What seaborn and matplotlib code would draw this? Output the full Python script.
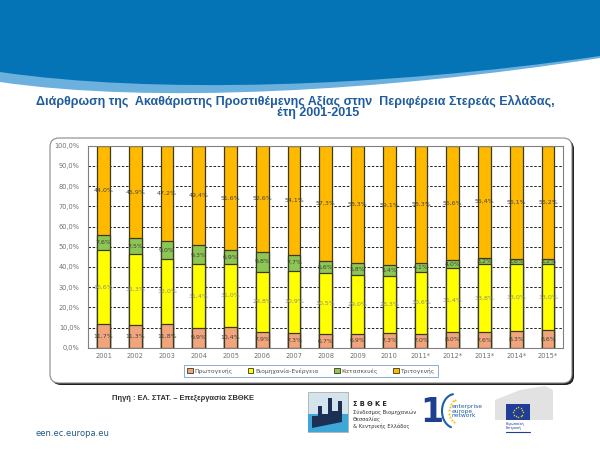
import numpy as np
import matplotlib
matplotlib.use('Agg')
import matplotlib.pyplot as plt
import seaborn as sns
from matplotlib.patches import Patch, Rectangle, FancyBboxPatch, PathPatch, Polygon
from matplotlib.path import Path

sns.set_theme(style="white")
plt.rcParams['font.family'] = ['DejaVu Sans']

# data (% of gross value added)
years = ['2001', '2002', '2003', '2004', '2005', '2006', '2007', '2008',
         '2009', '2010', '2011*', '2012*', '2013*', '2014*', '2015*']
primary = [11.7, 11.3, 11.8, 9.9, 10.4, 7.9, 7.3, 6.7, 6.9, 7.3, 7.0, 8.0, 7.6, 8.3, 8.6]
industry = [36.6, 35.3, 32.0, 31.4, 31.0, 29.8, 30.9, 30.5, 29.0, 28.3, 30.6, 31.4, 33.8, 33.0, 33.0]
construction = [7.6, 7.5, 9.0, 9.3, 6.9, 9.8, 7.7, 5.6, 5.8, 5.4, 4.1, 4.0, 3.2, 2.6, 2.2]
tertiary = [44.0, 45.9, 47.2, 49.4, 51.6, 52.6, 54.1, 57.3, 58.3, 59.1, 58.3, 56.6, 55.4, 56.1, 56.2]

sectors = ['Πρωτογενής', 'Βιομηχανία-Ενέργεια', 'Κατασκευές', 'Τριτογενής']
colors = ['#F2A57C', '#FFFF00', '#8CC653', '#FFBA00']
label_colors = ['#404040', '#8A8A8A', '#404040', '#404040']
edge = '#3A3A20'

fig = plt.figure(figsize=(6, 4.5), dpi=100)

# background layer in pixel coordinates
bg = fig.add_axes([0, 0, 1, 1], zorder=0)
bg.set_xlim(0, 600)
bg.set_ylim(450, 0)
bg.axis('off')

# header wave
light = Path([(0, 0), (0, 82), (150, 104), (380, 92), (600, 58), (600, 0), (0, 0)],
             [Path.MOVETO, Path.LINETO, Path.CURVE4, Path.CURVE4, Path.CURVE4,
              Path.LINETO, Path.CLOSEPOLY])
bg.add_patch(PathPatch(light, fc='#6CB0DD', ec='none'))
dark = Path([(0, 0), (0, 72), (150, 94), (380, 88), (600, 56), (600, 0), (0, 0)],
            [Path.MOVETO, Path.LINETO, Path.CURVE4, Path.CURVE4, Path.CURVE4,
             Path.LINETO, Path.CLOSEPOLY])
bg.add_patch(PathPatch(dark, fc='#0474B6', ec='none'))

# title
bg.text(295, 101, 'Διάρθρωση της  Ακαθάριστης Προστιθέμενης Αξίας στην  Περιφέρεια Στερεάς Ελλάδας,',
        ha='center', va='center', fontsize=9, fontweight='bold', color='#1F5C9E',
        family='Liberation Sans')
bg.text(318, 113, 'έτη 2001-2015', ha='center', va='center', fontsize=9,
        fontweight='bold', color='#1F5C9E', family='Liberation Sans')

# chart frame with shadow
bg.add_patch(FancyBboxPatch((52, 140), 522, 245, boxstyle='round,pad=0,rounding_size=9',
                            fc='#202020', ec='none'))
bg.add_patch(FancyBboxPatch((50, 138), 522, 245, boxstyle='round,pad=0,rounding_size=9',
                            fc='white', ec='#8A8A8A', lw=0.8))

# source and footer
bg.text(112, 398, 'Πηγή : ΕΛ. ΣΤΑΤ. – Επεξεργασία ΣΒΘΚΕ', ha='left', va='center',
        fontsize=5.4, fontweight='bold', color='#303030', family='Liberation Sans')
bg.text(36, 433, 'een.ec.europa.eu', ha='left', va='center', fontsize=6,
        color='#1F5A8A')

# ΣΒΘΚΕ logo
bg.add_patch(Rectangle((308, 392), 40, 40, fc='#D3E4EC', ec='#A0A0A0', lw=0.5))
bg.add_patch(Rectangle((308, 414), 40, 18, fc='#3DA8D8', ec='none'))
bg.add_patch(Polygon([(312, 426), (312, 416), (318, 416), (318, 406), (322, 406),
                      (322, 414), (328, 414), (328, 398), (332, 398), (332, 411),
                      (338, 411), (338, 401), (342, 401), (342, 422), (312, 428)],
                     fc='#1C2F55', ec='none'))
bg.text(353, 404, 'Σ Β Θ Κ Ε', ha='left', va='center', fontsize=4.8,
        fontweight='bold', color='#222222')
for yy, line in zip([412, 419, 426], ['Σύνδεσμος Βιομηχανιών', 'Θεσσαλίας',
                                      '& Κεντρικής Ελλάδος']):
    bg.text(353, yy, line, ha='left', va='center', fontsize=3.8, color='#333333')

# enterprise europe network logo
bg.text(432, 412, '1', ha='center', va='center', fontsize=24, fontweight='bold',
        color='#1D3F8F')
ang = np.linspace(np.pi * 0.6, np.pi * 1.45, 30)
bg.plot(455 + 13 * np.cos(ang), 411 + 17 * np.sin(ang), color='#1D5FA8', lw=1.5)
sang = np.linspace(np.pi * 0.65, np.pi * 1.4, 9)
bg.scatter(458 + 9 * np.cos(sang), 411 + 12 * np.sin(sang), marker='*', s=6,
           color='#F2C200', lw=0)
bg.text(452, 411, 'enterprise\neurope\nnetwork', ha='left', va='center',
        fontsize=4.3, color='#1D5FA8', linespacing=0.95)

# EU logo
bg.add_patch(Polygon([(495, 400), (520, 390), (545, 386), (553, 390), (553, 420),
                      (495, 420)], fc='#E2E2E2', ec='none'))
bg.add_patch(Rectangle((506, 404), 24, 16, fc='#1F3E9A', ec='none'))
fang = np.linspace(0, 2 * np.pi, 13)[:-1]
bg.scatter(518 + 5 * np.cos(fang), 412 + 5 * np.sin(fang), marker='*', s=3,
           color='#FFDD00', lw=0)
bg.text(506, 426, 'Ευρωπαϊκή\nΕπιτροπή', ha='left', va='center', fontsize=2.4,
        color='#1F3E9A', linespacing=0.9)
bg.plot([506, 530], [432, 432], color='#1F3E9A', lw=0.8)

# chart
ax = fig.add_axes([88 / 600, 1 - 347.7 / 450, 475 / 600, 202 / 450], zorder=1)
ax.set_facecolor('white')

values = np.array([primary, industry, construction, tertiary])
cum = np.cumsum(values, axis=0)

for i in [3, 2, 1, 0]:
    sns.barplot(x=years, y=cum[i], color=colors[i], saturation=1, width=0.4,
                edgecolor=edge, linewidth=0.9, errorbar=None, ax=ax, zorder=2)

for i in range(4):
    for j in range(len(years)):
        mid = cum[i][j] - values[i][j] / 2
        txt = f"{values[i][j]:.1f}%".replace('.', ',')
        ax.text(j, mid, txt, ha='center', va='center', fontsize=4.5,
                color=label_colors[i], zorder=3)

ax.set_xlim(-0.49, 14.47)
ax.set_ylim(0, 100)
ticks = np.arange(0, 101, 10)
ax.set_yticks(ticks)
ax.set_yticklabels([f"{t:.1f}%".replace('.', ',') for t in ticks])
ax.set_xlabel('')
ax.set_ylabel('')
ax.yaxis.grid(True, linestyle=(0, (3, 2)), color='black', linewidth=0.6)
ax.xaxis.grid(False)
ax.set_axisbelow(True)
ax.tick_params(axis='both', length=0, labelsize=4.8, labelcolor='#707070')
ax.tick_params(axis='y', pad=6)
ax.tick_params(axis='x', pad=4)
for s in ax.spines.values():
    s.set_color('#808080')
    s.set_linewidth(0.8)

handles = [Patch(facecolor=c, edgecolor=edge, linewidth=0.6) for c in colors]
leg = fig.legend(handles, sectors, loc='center', bbox_to_anchor=(311 / 600, 1 - 371 / 450),
                 ncol=4, fontsize=4.3, frameon=True, fancybox=False,
                 handlelength=0.9, handleheight=0.9, handletextpad=0.3,
                 columnspacing=2.6, borderpad=0.5)
leg.get_frame().set_edgecolor('#6F98C2')
leg.get_frame().set_linewidth(0.7)
for t in leg.get_texts():
    t.set_color('#505050')

fig.savefig('out.png', dpi=100)
